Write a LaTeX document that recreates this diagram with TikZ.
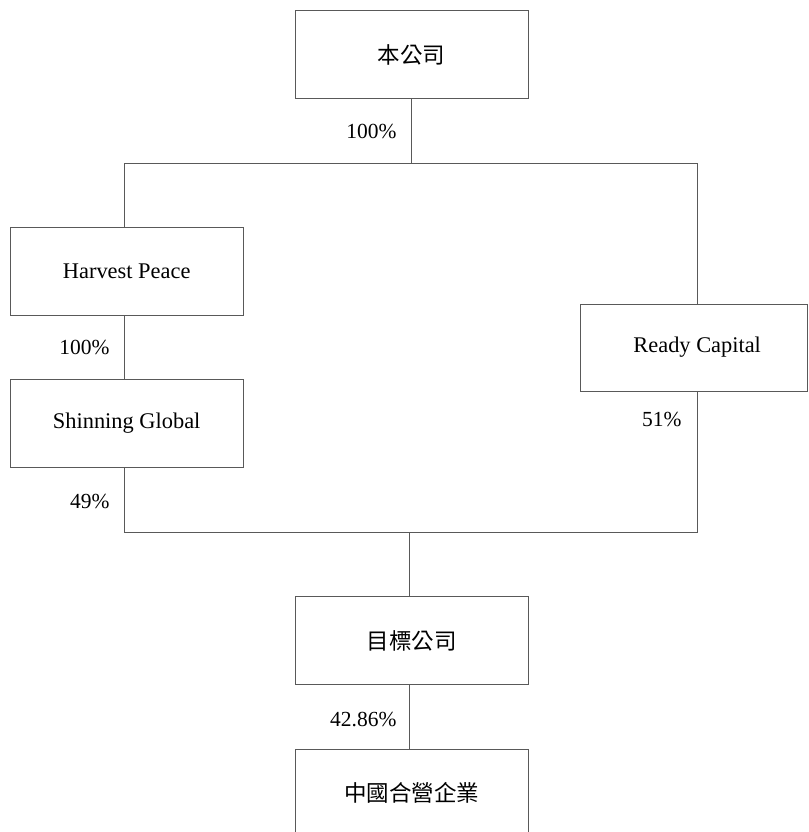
\documentclass[tikz,border=0pt]{standalone}
\usepackage{fontspec}
\setmainfont{Liberation Serif}
\newfontfamily\cjk{Noto Sans CJK TC}
\begin{document}
\begin{tikzpicture}[x=1pt,y=-1pt,
  line width=1pt,
  orgbox/.style={draw=black!65, line width=1pt, rectangle, minimum width=233pt, minimum height=88pt, inner sep=0pt, font=\fontsize{22.4}{27}\selectfont},
  cjkbox/.style={orgbox, font=\cjk\fontsize{22.5}{27}\selectfont},
  pct/.style={anchor=east, inner sep=0pt, font=\fontsize{21.5}{26}\selectfont},
  link/.style={draw=black!65, line width=1pt}]
\useasboundingbox (0,0) rectangle (808,832);
\clip (0,0) rectangle (808,832);
% boxes
\node[cjkbox] (top) at (411.5,54.7) {本公司};
\node[orgbox] (harvest) at (126.7,271) {Harvest Peace};
\node[orgbox] (shinning) at (126.7,423.5) {Shinning Global};
\node[orgbox, minimum width=227pt, minimum height=87pt] (ready) at (694.2,347.5) {\hspace*{6pt}Ready Capital};
\node[cjkbox] (target) at (411.5,640.5) {目標公司};
\node[cjkbox] (jv) at (411.5,793) {中國合營企業};
% junction coordinates
\coordinate (jt) at (411.7,163);
\coordinate (jl) at (124.7,163);
\coordinate (jr) at (697,163);
\coordinate (bl) at (124.7,532.3);
\coordinate (br) at (697,532.3);
\coordinate (bm) at (409,532.3);
% connectors
\draw[link] (jt |- top.south) -- (jt);
\draw[link] (jl) -- (jr);
\draw[link] (jl) -- (jl |- harvest.north);
\draw[link] (jl |- harvest.south) -- (jl |- shinning.north);
\draw[link] (jr) -- (jr |- ready.north);
\draw[link] (bl |- shinning.south) -- (bl) -- (br) -- (br |- ready.south);
\draw[link] (bm) -- (bm |- target.north);
\draw[link] (bm |- target.south) -- (bm |- jv.north);
% labels
\node[pct] (p1) at (397,131) {100\%};
\node[pct] (p2) at (110,347) {100\%};
\node[pct] (p3) at (110,501) {49\%};
\node[pct] (p4) at (682,419) {51\%};
\node[pct] (p5) at (397,719) {42.86\%};
\end{tikzpicture}
\end{document}
